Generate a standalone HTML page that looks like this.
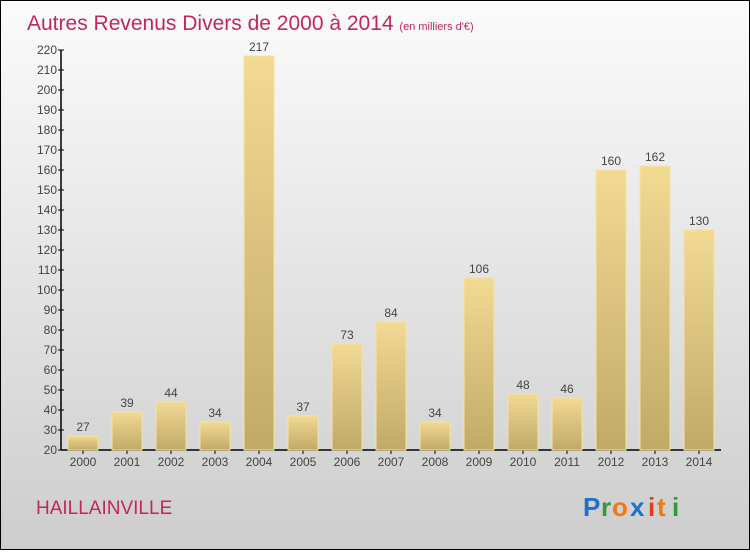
<!DOCTYPE html>
<html><head><meta charset="utf-8"><style>
html,body{margin:0;padding:0}
body{width:750px;height:550px;overflow:hidden;font-family:"Liberation Sans",sans-serif}
</style></head><body>
<svg width="750" height="550" xmlns="http://www.w3.org/2000/svg">
<defs>
<linearGradient id="bg" x1="0" y1="0" x2="0" y2="1"><stop offset="0" stop-color="#fbfbfb"/><stop offset="1" stop-color="#cdcdcd"/></linearGradient>
<linearGradient id="bar" x1="0" y1="0" x2="0" y2="1"><stop offset="0" stop-color="#f2da93"/><stop offset="1" stop-color="#c1a968"/></linearGradient>
</defs>
<rect x="0.5" y="0.5" width="749" height="549" fill="url(#bg)" stroke="#000"/>
<text x="27" y="30" font-size="21" fill="#c0285a">Autres Revenus Divers de 2000 à 2014 <tspan font-size="11">(en milliers d'€)</tspan></text>
<g id="axes"></g>
<g id="bars"></g>
<text x="36" y="514" font-size="19" fill="#c0285a">HAILLAINVILLE</text>
<g font-size="26" font-weight="bold" font-family="Liberation Sans, sans-serif">
<text x="583" y="516" fill="#1a73c9">P</text><text x="601" y="516" fill="#2f9a3b">r</text><text x="612" y="516" fill="#f07a10">o</text><text x="630" y="516" fill="#1a73c9">x</text><text x="648" y="516" fill="#e63b1a">i</text><text x="657" y="516" fill="#f07a10">t</text><text x="672" y="516" fill="#2f9a3b">i</text>
</g>
</svg>
<script>
const categories=["2000","2001","2002","2003","2004","2005","2006","2007","2008","2009","2010","2011","2012","2013","2014"];
const values=[27,39,44,34,217,37,73,84,34,106,48,46,160,162,130];
const yTicks=[20,30,40,50,60,70,80,90,100,110,120,130,140,150,160,170,180,190,200,210,220];
const NS="http://www.w3.org/2000/svg";
const x0=61,x1=721,yMin=20,yMax=220,py0=450,py1=50;
const band=(x1-x0)/categories.length;
const y=v=>py0-(v-yMin)*(py0-py1)/(yMax-yMin);
const xc=i=>x0+band*(i+0.5);
function mk(t,a,p){const e=document.createElementNS(NS,t);for(const k in a)e.setAttribute(k,a[k]);p.appendChild(e);return e;}
const ax=document.getElementById('axes'),bg=document.getElementById('bars');
const yl=mk('line',{x1:x0,y1:py1,x2:x0,y2:py0,stroke:'#000','stroke-width':1.5},ax);


const xl=mk('line',{x1:x0,y1:py0,x2:x1,y2:py0,stroke:'#000','stroke-width':1.5},ax);


yTicks.forEach(v=>{
 mk('line',{x1:x0-3,y1:y(v),x2:x0+3,y2:y(v),stroke:'#000'},ax);
 const t=mk('text',{x:x0-4,y:y(v)+4,'font-size':12,fill:'#444','text-anchor':'end'},ax);t.textContent=v;
 
 
});
categories.forEach((c,i)=>{
 mk('line',{x1:xc(i),y1:py0,x2:xc(i),y2:py0+4,stroke:'#000'},ax);
 const t=mk('text',{x:xc(i),y:py0+16,'font-size':12,fill:'#444','text-anchor':'middle'},ax);t.textContent=c;
 
 
 const r=mk('rect',{x:xc(i)-15,y:y(values[i]),width:30,height:py0-y(values[i]),fill:'url(#bar)',stroke:'#f5e39f','stroke-width':1},bg);
 
 
 const l=mk('text',{x:xc(i),y:y(values[i])-5,'font-size':12,fill:'#444','text-anchor':'middle'},bg);l.textContent=values[i];
 
 
});
</script>
</body></html>
